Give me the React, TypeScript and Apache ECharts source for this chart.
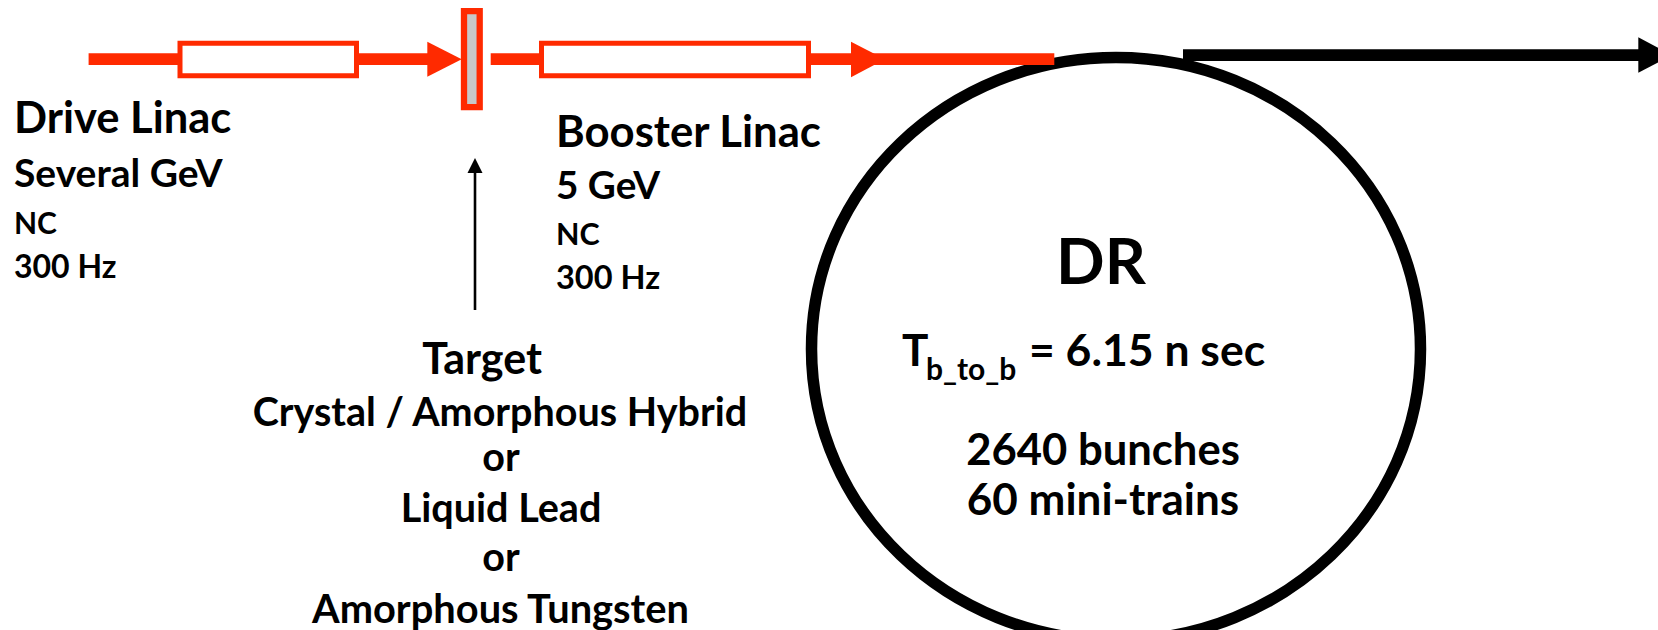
import React, { useEffect, useRef } from "react";
import * as echarts from "echarts";

// ---- texts of the diagram ----
const driveLabels = ["Drive Linac", "Several GeV", "NC", "300 Hz"];
const boosterLabels = ["Booster Linac", "5 GeV", "NC", "300 Hz"];
const targetLabels = ["Target", "Crystal / Amorphous Hybrid", "or", "Liquid Lead", "or", "Amorphous Tungsten"];
const drTitle = ["DR"];
const bunchSpacing = ["T", "b_to_b", "= 6.15 n sec"];
const drStats = ["2640 bunches", "60 mini-trains"];

const RED = "#ff2a00";
const FONT = "Lato";

function txt(text: string, x: number, base: number, size: number, align: string = "left") {
  return {
    type: "text",
    x,
    y: base - 0.387 * size,
    silent: true,
    style: {
      text,
      font: `bold ${size}px ${FONT}`,
      fill: "#000",
      align,
      verticalAlign: "middle",
      textAlign: align,
      textVerticalAlign: "middle",
    },
  };
}

export default function App() {
  const ref = useRef<HTMLDivElement>(null);
  useEffect(() => {
    if (!ref.current) return;
    const chart = echarts.init(ref.current, null, { renderer: "svg" });

    const driveBases = [132.5, 186.7, 233.3, 277.7];
    const driveSizes = [43.5, 39, 30, 32];
    const boosterBases = [146.5, 199, 245, 289.5];
    const boosterSizes = [43.7, 38.7, 30.5, 32.5];
    const targetBases = [374, 426, 470.7, 521.7, 570.7, 623.3];
    const targetSizes = [43, 39.5, 39.5, 39.6, 39.5, 39.8];
    const targetX = [482, 500, 501, 501, 501, 500.5];

    const elements: any[] = [];

    // damping ring
    elements.push({
      type: "ellipse",
      silent: true,
      shape: { cx: 1116, cy: 349, rx: 304.5, ry: 291.5 },
      style: { fill: "none", stroke: "#000", lineWidth: 11.5 },
    });

    // red beam line (drive linac part)
    elements.push({
      type: "line",
      silent: true,
      shape: { x1: 88.6, y1: 59.2, x2: 440, y2: 59.2 },
      style: { stroke: RED, lineWidth: 11.7 },
    });
    elements.push({
      type: "rect",
      silent: true,
      shape: { x: 180, y: 43.2, width: 176.5, height: 32.6 },
      style: { fill: "#fff", stroke: RED, lineWidth: 5 },
    });
    elements.push({
      type: "polygon",
      silent: true,
      shape: { points: [[427.3, 41.7], [461.7, 59.2], [427.3, 76.7]] },
      style: { fill: RED },
    });
    // target
    elements.push({
      type: "rect",
      silent: true,
      shape: { x: 464, y: 11.2, width: 15.7, height: 96 },
      style: { fill: "#c8c8c8", stroke: RED, lineWidth: 6.3 },
    });
    // booster part
    elements.push({
      type: "line",
      silent: true,
      shape: { x1: 490.7, y1: 59.2, x2: 1054.3, y2: 59.2 },
      style: { stroke: RED, lineWidth: 11.7 },
    });
    elements.push({
      type: "rect",
      silent: true,
      shape: { x: 541.5, y: 43.2, width: 267, height: 32.6 },
      style: { fill: "#fff", stroke: RED, lineWidth: 5 },
    });
    elements.push({
      type: "polygon",
      silent: true,
      shape: { points: [[851, 41.7], [885, 59.2], [851, 77.3]] },
      style: { fill: RED },
    });

    // extraction arrow
    elements.push({
      type: "line",
      silent: true,
      shape: { x1: 1183, y1: 55.2, x2: 1640, y2: 55.2 },
      style: { stroke: "#000", lineWidth: 11.7 },
    });
    elements.push({
      type: "polygon",
      silent: true,
      shape: { points: [[1638.3, 37.3], [1672, 55.2], [1638.3, 72.7]] },
      style: { fill: "#000" },
    });

    // thin arrow to target
    elements.push({
      type: "line",
      silent: true,
      shape: { x1: 475, y1: 310, x2: 475, y2: 170 },
      style: { stroke: "#000", lineWidth: 2.6 },
    });
    elements.push({
      type: "polygon",
      silent: true,
      shape: { points: [[467.5, 173], [475, 158], [482.5, 173]] },
      style: { fill: "#000" },
    });

    // texts
    driveLabels.forEach((t, i) => elements.push(txt(t, 14, driveBases[i], driveSizes[i])));
    boosterLabels.forEach((t, i) => elements.push(txt(t, 556, boosterBases[i], boosterSizes[i])));
    targetLabels.forEach((t, i) => elements.push(txt(t, targetX[i], targetBases[i], targetSizes[i], "center")));
    elements.push(txt(drTitle[0], 1101, 284, 64, "center"));
    elements.push(txt(bunchSpacing[0], 902, 365.7, 44));
    elements.push(txt(bunchSpacing[1], 926, 380, 30));
    elements.push(txt(bunchSpacing[2], 1029, 365.7, 44.5));
    elements.push(txt(drStats[0], 1103, 465, 43.6, "center"));
    elements.push(txt(drStats[1], 1103, 515, 44, "center"));

    chart.setOption({
      animation: false,
      backgroundColor: "#fff",
      graphic: { elements },
    });
    return () => chart.dispose();
  }, []);

  return (
    <div
      ref={ref}
      style={{ position: "fixed", left: 0, top: 0, width: 1658, height: 630, background: "#fff" }}
    />
  );
}
